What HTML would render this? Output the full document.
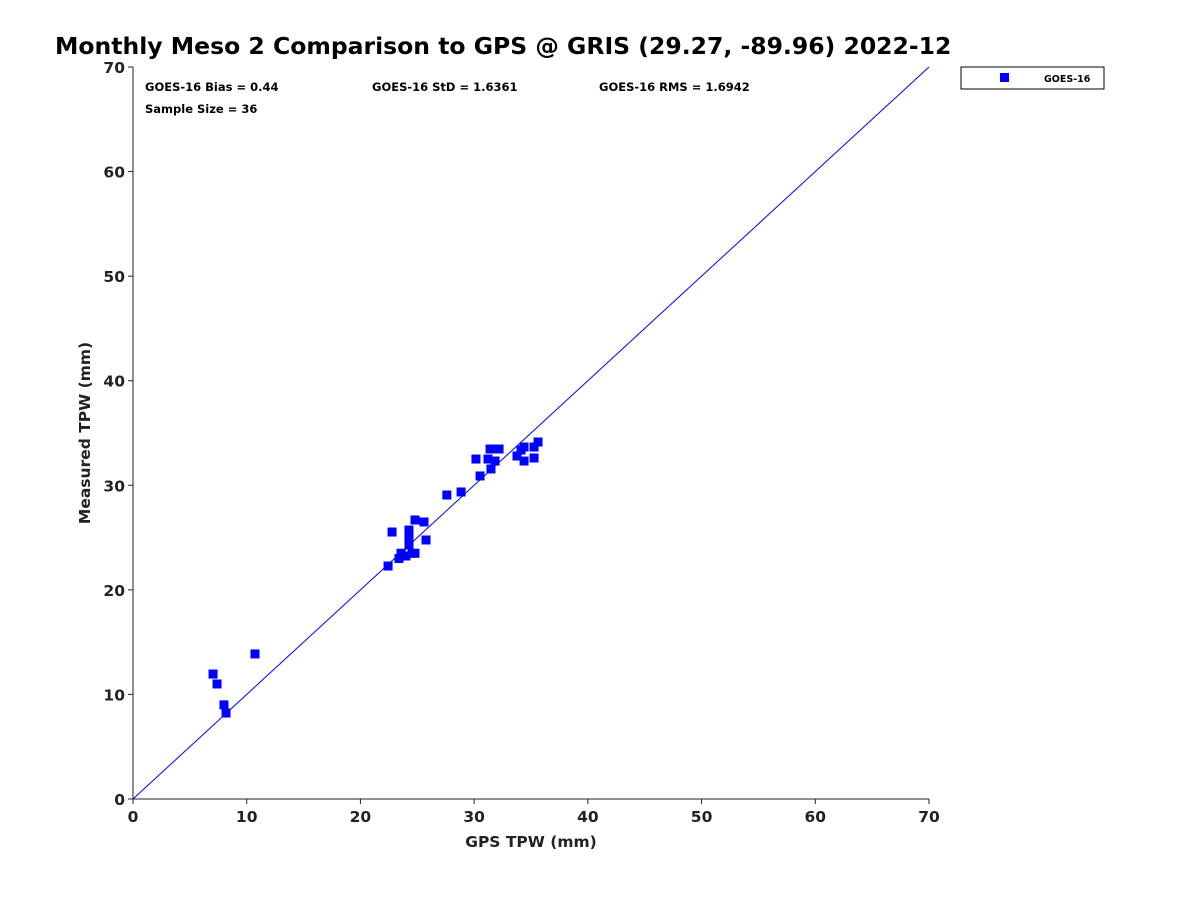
<!DOCTYPE html>
<html><head><meta charset="utf-8"><style>
body{margin:0;background:#fff;font-family:"DejaVu Sans",sans-serif;}
svg text{font-family:"DejaVu Sans",sans-serif;}
</style></head><body>
<svg id="chart" width="1200" height="900" xmlns="http://www.w3.org/2000/svg">
<text x="55" y="54" font-size="23.5" font-weight="bold">Monthly Meso 2 Comparison to GPS @ GRIS (29.27, -89.96) 2022-12</text>
<g id="axes"></g>
<g id="marks"></g>
<text x="145" y="91" font-size="11.5" font-weight="bold">GOES-16 Bias = 0.44</text>
<text x="372" y="91" font-size="11.5" font-weight="bold">GOES-16 StD = 1.6361</text>
<text x="599" y="91" font-size="11.5" font-weight="bold">GOES-16 RMS = 1.6942</text>
<text x="145" y="113" font-size="11.5" font-weight="bold">Sample Size = 36</text>
<g>
<rect x="961" y="67" width="143" height="22" fill="#fff" stroke="#000" stroke-width="1"/>
<rect x="1000" y="73" width="9" height="9" fill="#0000ff"/>
<text x="1044" y="82" font-size="9.5" font-weight="bold">GOES-16</text>
</g>
<text x="531" y="847" font-size="15.5" font-weight="bold" text-anchor="middle" fill="#222">GPS TPW (mm)</text>
<text transform="translate(90,433) rotate(-90)" font-size="15.5" font-weight="bold" text-anchor="middle" fill="#222">Measured TPW (mm)</text>
</svg>
<script>
const gpsTPW=[7.04,7.39,8.0,8.18,10.73,22.43,22.78,23.39,23.57,23.74,24.0,24.27,24.27,24.27,24.27,24.54,24.8,24.8,25.59,25.77,27.6,28.85,30.16,30.52,31.22,31.48,31.4,31.84,32.19,33.77,34.12,34.39,34.39,35.27,35.27,35.62];
const measuredTPW=[11.95,11.0,9.0,8.22,13.87,22.28,25.53,23.0,23.5,23.24,23.24,25.72,25.25,24.77,24.29,23.5,23.5,26.68,26.49,24.77,29.07,29.36,32.51,30.89,32.51,31.56,33.47,32.32,33.47,32.8,33.37,33.66,32.32,32.61,33.66,34.14];
const ticks=[0,10,20,30,40,50,60,70];
const NS="http://www.w3.org/2000/svg";
const x0=133,x1=929,y0=799,y1=67,max=70;
const sx=v=>x0+v/max*(x1-x0), sy=v=>y0-v/max*(y0-y1);
function mk(tag,attrs,parent){const e=document.createElementNS(NS,tag);for(const k in attrs)e.setAttribute(k,attrs[k]);parent.appendChild(e);return e;}
const axes=document.getElementById('axes'), marks=document.getElementById('marks');
let a=mk('line',{x1:x0,y1:y0,x2:x1,y2:y0,stroke:'#222','stroke-width':1},axes);


a=mk('line',{x1:x0,y1:y0,x2:x0,y2:y1,stroke:'#222','stroke-width':1},axes);


ticks.forEach(t=>{
  let l=mk('line',{x1:sx(t),y1:y0,x2:sx(t),y2:y0+5,stroke:'#222'},axes);
  
  
  let tx=mk('text',{x:sx(t),y:y0+23,'font-size':15.5,'font-weight':'bold','text-anchor':'middle',fill:'#222'},axes);
  tx.textContent=t;
  
  
  l=mk('line',{x1:x0-5,y1:sy(t),x2:x0,y2:sy(t),stroke:'#222'},axes);
  
  
  tx=mk('text',{x:x0-8,y:sy(t)+6,'font-size':15.5,'font-weight':'bold','text-anchor':'end',fill:'#222'},axes);
  tx.textContent=t;
  
  
});
const ref=mk('line',{x1:sx(0),y1:sy(0),x2:sx(max),y2:sy(max),stroke:'#0000ff','stroke-width':1},marks);


gpsTPW.forEach((g,i)=>{
  const r=mk('rect',{x:sx(g)-4.5,y:sy(measuredTPW[i])-4.5,width:9,height:9,fill:'#0000ff'},marks);
  
  
});
</script>
</body></html>
